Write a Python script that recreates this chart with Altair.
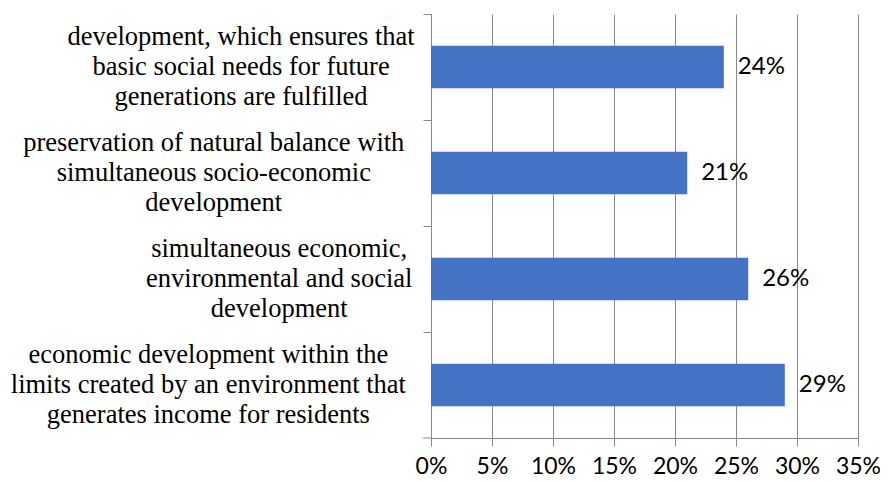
import altair as alt
import pandas as pd

categories = [
    "development, which ensures that|basic social needs for future|generations are fulfilled",
    "preservation of natural balance with|simultaneous socio-economic|development",
    "simultaneous economic,|environmental and social|development",
    "economic development within the|limits created by an environment that|generates income for residents",
]
values = [0.24, 0.21, 0.26, 0.29]
x_ticks = [0, 0.05, 0.10, 0.15, 0.20, 0.25, 0.30, 0.35]

df = pd.DataFrame({"category": categories, "value": values})

W, H = 427, 424
PX_PER_UNIT = W / 0.35
GRAY = "#898989"
BLUE = "#4472C4"
LINE_H = 30

x_scale = alt.Scale(domain=[0, 0.35], nice=False, zero=True)
y_enc = alt.Y(
    "category:N",
    sort=categories,
    scale=alt.Scale(paddingInner=0, paddingOuter=0),
    axis=alt.Axis(
        title=None, labels=False, bandPosition=0, tickSize=8,
        tickColor=GRAY, domainColor=GRAY, grid=False,
    ),
)

bars = alt.Chart(df).mark_bar(color=BLUE, height={"band": 0.4}).encode(
    x=alt.X(
        "value:Q",
        scale=x_scale,
        axis=alt.Axis(
            title=None, values=x_ticks, format=".0%", grid=True,
            gridColor=GRAY, gridWidth=1, domainColor=GRAY, tickColor=GRAY,
            tickSize=8, labelFont="Lato", labelFontSize=23, labelColor="black",
            labelPadding=9, labelOverlap=False, labelBound=False, labelFlush=False,
        ),
    ),
    y=y_enc,
)

value_labels = alt.Chart(df).mark_text(
    align="left", baseline="middle", dx=14, font="Lato", fontSize=24, color="black"
).encode(
    x=alt.X("value:Q"),
    y=alt.Y("category:N", sort=categories),
    text=alt.Text("value:Q", format=".0%"),
)

cat_labels = alt.Chart(df).transform_calculate(
    maxlen="max(length(split(datum.category,'|')[0]), length(split(datum.category,'|')[1]), length(split(datum.category,'|')[2]))",
).transform_calculate(
    lx=f"-(21 + datum.maxlen*5.45)/{PX_PER_UNIT}",
).mark_text(
    align="center", baseline="middle", lineBreak="|", dy=-LINE_H,
    font="Liberation Serif", fontSize=26.5, lineHeight=LINE_H, color="black",
).encode(
    x=alt.X("lx:Q"),
    y=alt.Y("category:N", sort=categories),
    text="category:N",
)

corner = alt.Chart(pd.DataFrame({"a": [0]})).mark_rule(color=GRAY).encode(
    x=alt.value(-8), x2=alt.value(0), y=alt.value(H)
)

chart = (
    alt.layer(bars, value_labels, cat_labels, corner)
    .properties(
        width=W, height=H,
        autosize=alt.AutoSizeParams(type="none"),
        padding={"left": 423, "top": 6, "right": 22, "bottom": 44},
    )
    .configure_view(stroke=None)
)

chart.save("out.html", embed_options={"renderer": "svg", "actions": False})
